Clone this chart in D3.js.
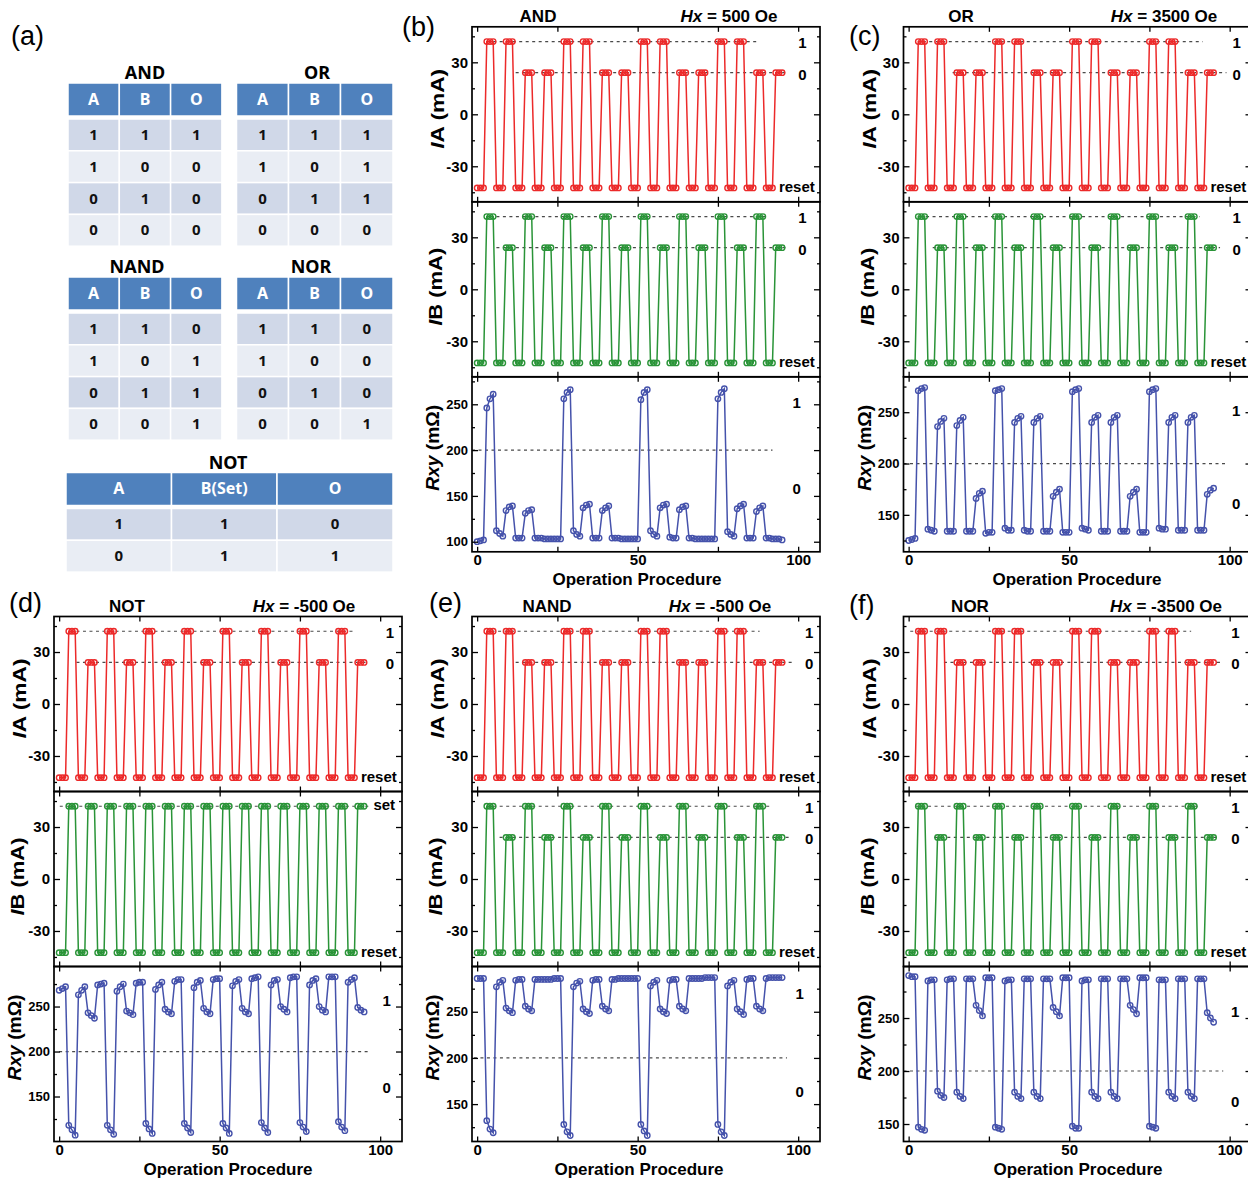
<!DOCTYPE html>
<html>
<head>
<meta charset="utf-8">
<script src="https://cdnjs.cloudflare.com/ajax/libs/d3/7.8.5/d3.min.js"></script>
<style>
body { margin: 0; background: #fff; }
text { font-family: "Liberation Sans", Arial, sans-serif; }
.tbl text { font-family: "Noto Sans", "Open Sans", sans-serif; }
</style>
</head>
<body>
<div id="vis"></div>
<script>
// ---------- data ----------
const steps = d3.range(96); // operation procedure index

// current levels (mA)
const levelOne = 42, levelZero = 24, levelReset = -42.5;

// input bit of each of the 16 operation cycles
const andA = [1,1,0,0,1,1,0,0,1,1,0,0,1,1,0,0];
const andB = [1,0,1,0,1,0,1,0,1,0,1,0,1,0,1,0];
const orA = [1,1,0,0,1,1,0,0,1,1,0,0,1,1,0,0];
const orB = [1,0,1,0,1,0,1,0,1,0,1,0,1,0,1,0];
const notA = [1,0,1,0,1,0,1,0,1,0,1,0,1,0,1,0];
const notB = [1,1,1,1,1,1,1,1,1,1,1,1,1,1,1,1];
const nandA = [1,1,0,0,1,1,0,0,1,1,0,0,1,1,0,0];
const nandB = [1,0,1,0,1,0,1,0,1,0,1,0,1,0,1,0];
const norA = [1,1,0,0,1,1,0,0,1,1,0,0,1,1,0,0];
const norB = [1,0,1,0,1,0,1,0,1,0,1,0,1,0,1,0];

// Rxy (mOhm), 96 points each
const rxyAnd = [
  100,101,102, 246,256,261,  112,109,106, 134,138,139,  104,104,104, 131,134,135,  104,104,104, 103,103,103,
  103,103,103, 256,263,266,  112,108,106, 137,140,141,  104,104,104, 134,137,139,  104,104,104, 103,103,103,
  103,103,103, 255,263,266,  112,108,106, 137,140,141,  105,104,104, 135,138,139,  104,104,103, 103,103,103,
  103,103,103, 256,263,267,  111,108,106, 136,139,141,  104,104,104, 133,137,139,  104,104,103, 103,103,102
];
const rxyOr = [
  125,126,127, 271,273,274,  136,135,134, 236,241,244,  134,134,134, 237,242,245,  134,134,134, 166,171,173,
  132,133,133, 271,272,273,  137,135,135, 240,244,246,  135,134,134, 240,244,246,  134,134,134, 168,172,175,
  133,133,133, 270,272,273,  137,136,135, 240,245,247,  134,134,134, 240,245,247,  134,134,134, 168,172,175,
  133,133,133, 270,272,273,  137,136,136, 240,245,247,  135,135,135, 240,245,247,  135,135,135, 170,174,176
];
const rxyNot = [
  268,270,272, 118,113,107,  263,268,272, 243,240,237,  274,275,276, 118,113,108,  267,272,275, 245,243,241,
  276,277,277, 120,114,109,  269,274,277, 247,244,242,  278,280,280, 120,115,110,  271,277,279, 248,244,242,
  280,281,281, 120,115,109,  273,278,280, 248,244,242,  281,282,283, 121,115,110,  274,279,280, 250,247,244,
  282,283,283, 121,116,111,  274,279,281, 250,246,244,  283,283,283, 122,116,112,  277,280,282, 249,246,244
];
const rxyNand = [
  286,286,286, 132,123,119,  277,282,284, 254,251,249,  284,285,285, 256,253,251,  285,285,285, 285,285,285,
  286,286,286, 128,120,116,  277,281,283, 253,250,248,  284,285,285, 256,253,251,  285,285,286, 286,286,286,
  286,286,286, 128,121,116,  278,282,284, 253,250,248,  284,285,285, 256,253,251,  286,286,286, 286,286,287,
  287,287,287, 128,120,116,  278,282,284, 253,250,247,  285,286,286, 256,253,251,  286,287,287, 287,287,287
];
const rxyNor = [
  290,289,289, 147,145,144,  285,286,286, 181,177,175,  286,287,287, 180,176,174,  287,287,287, 262,257,252,
  288,288,288, 147,146,145,  285,286,286, 180,176,174,  287,287,287, 180,176,174,  287,287,287, 260,256,252,
  288,288,288, 148,146,146,  285,286,286, 180,176,174,  287,287,287, 180,176,174,  287,287,287, 262,258,254,
  288,288,288, 148,147,146,  286,286,286, 180,176,174,  287,287,287, 180,176,174,  287,287,287, 255,250,246
];

// truth tables
const gateHeaders = ['A', 'B', 'O'];
const andRows = [[1,1,1],[1,0,0],[0,1,0],[0,0,0]];
const orRows = [[1,1,1],[1,0,1],[0,1,1],[0,0,0]];
const nandRows = [[1,1,0],[1,0,1],[0,1,1],[0,0,1]];
const norRows = [[1,1,0],[1,0,0],[0,1,0],[0,0,1]];
const notHeaders = ['A', 'B(Set)', 'O'];
const notRows = [[1,1,0],[0,1,1]];

// ---------- drawing ----------
const svg = d3.select('#vis').append('svg')
  .attr('width', 1248).attr('height', 1182);

const red = '#ec2a2a', green = '#2a9438', blue = '#4552ab';
const subH = 175, plotW = 348;

// turn input bits into reset / write points
function pulseTrain(bits) {
  const pts = [];
  bits.forEach((bit, k) => {
    for (let j = 0; j < 3; j++) pts.push({step: steps[6 * k + j], value: levelReset});
    for (let j = 3; j < 6; j++) pts.push({step: steps[6 * k + j], value: bit ? levelOne : levelZero});
  });
  return pts;
}

function axes(g, x, y, yMajor, yMinor, showX, fontSize) {
  const [x0, x1] = x.range();
  const [yb, yt] = y.range();
  const style = a => {
    a.select('.domain').remove();
    a.selectAll('line').attr('stroke', '#000').attr('stroke-width', 1.3);
    a.selectAll('text').attr('font-family', '"Liberation Sans", Arial, sans-serif')
      .attr('font-weight', 'bold').attr('font-size', fontSize).attr('fill', '#000');
  };
  g.append('g').attr('transform', `translate(${x0},0)`)
    .call(d3.axisLeft(y).tickValues(yMajor).tickSize(-6).tickPadding(4).tickFormat(d => String(d))).call(style);
  g.append('g').attr('transform', `translate(${x0},0)`)
    .call(d3.axisLeft(y).tickValues(yMinor).tickSize(-3).tickFormat('')).call(style);
  g.append('g').attr('transform', `translate(${x1},0)`)
    .call(d3.axisRight(y).tickValues(yMajor).tickSize(-6).tickFormat('')).call(style);
  g.append('g').attr('transform', `translate(${x1},0)`)
    .call(d3.axisRight(y).tickValues(yMinor).tickSize(-3).tickFormat('')).call(style);
  g.append('g').attr('transform', `translate(0,${yt})`)
    .call(d3.axisTop(x).tickValues([0, 25, 50, 75, 100]).tickSize(-5).tickFormat('')).call(style);
  g.append('g').attr('transform', `translate(0,${yb})`)
    .call(d3.axisBottom(x).tickValues([0, 25, 50, 75, 100]).tickSize(-5).tickPadding(3)
      .tickFormat(d => showX && d % 50 === 0 ? String(d) : '')).call(style)
    .call(a => a.selectAll('text').attr('font-size', 15));
  g.append('rect').attr('x', x0).attr('y', yt).attr('width', x1 - x0).attr('height', yb - yt)
    .attr('fill', 'none').attr('stroke', '#000').attr('stroke-width', 1.7);
}

function yTitle(g, cx, cy, italic, rest, len) {
  const t = g.append('text').attr('transform', `translate(${cx},${cy}) rotate(-90)`)
    .attr('text-anchor', 'middle').attr('dominant-baseline', 'middle')
    .attr('font-size', 19).attr('font-weight', 'bold')
    .attr('textLength', len).attr('lengthAdjust', 'spacingAndGlyphs');
  t.append('tspan').attr('font-style', 'italic').text(italic);
  t.append('tspan').text(rest);
}

function dash(g, x, y, from, to, level) {
  g.append('line').attr('x1', x(from)).attr('x2', x(to)).attr('y1', y(level)).attr('y2', y(level))
    .attr('stroke', '#4a4a4a').attr('stroke-width', 1.2).attr('stroke-dasharray', '3,3.5');
}

function series(g, x, y, pts, color) {
  g.append('path').datum(pts)
    .attr('d', d3.line().x(d => x(d.step)).y(d => y(d.value)))
    .attr('fill', 'none').attr('stroke', color).attr('stroke-width', 1.5);
  g.selectAll(null).data(pts).enter().append('circle')
    .attr('cx', d => x(d.step)).attr('cy', d => y(d.value)).attr('r', 2.7)
    .attr('fill', 'none').attr('stroke', color).attr('stroke-width', 1.4);
}

function label(g, px, py, txt, size, anchor) {
  g.append('text').attr('x', px).attr('y', py).attr('text-anchor', anchor || 'middle')
    .attr('dominant-baseline', 'middle').attr('font-size', size || 15).attr('font-weight', 'bold').text(txt);
}

const panels = [
  {letter: '(b)', lx: 402, ly: 36, gate: 'AND', gx: 538, field: ' = 500 Oe', fx: 729, ty: 22,
   left: 472, top: 26.8, a: andA, b: andB, rxy: rxyAnd, rDomain: [89, 280], rMajor: [100, 150, 200, 250],
   aDash: [[5, 87], [12, 97]], bDash: [[6, 91], [6, 97]], rDash: [-1.6, 92], ioX: 101.3,
   rLab: [250, 156], rLabX: 99.5, xt: 637},
  {letter: '(c)', lx: 849, ly: 45, gate: 'OR', gx: 961, field: ' = 3500 Oe', fx: 1164, ty: 22,
   left: 903.5, top: 26.8, a: orA, b: orB, rxy: rxyOr, rDomain: [114, 284.5], rMajor: [150, 200, 250],
   aDash: [[4.4, 91.6], [13.7, 99]], bDash: [[3.4, 90.6], [7.5, 97]], rDash: [-1.6, 99.4], ioX: 102.2,
   rLab: [250, 160], rLabX: 102, xt: 1077},
  {letter: '(d)', lx: 9, ly: 612, gate: 'NOT', gx: 127, field: ' = -500 Oe', fx: 304, ty: 612,
   left: 54, top: 616.5, a: notA, b: notB, rxy: rxyNot, rDomain: [100, 294.5], rMajor: [150, 200, 250],
   aDash: [[5.4, 91.6], [5.4, 95.8]], bDash: [[0.2, 96.9], null], rDash: [0, 96.9], ioX: 103,
   rLab: [255, 158], rLabX: 102, xt: 228, notGate: true},
  {letter: '(e)', lx: 429, ly: 612, gate: 'NAND', gx: 547, field: ' = -500 Oe', fx: 720, ty: 612,
   left: 472, top: 616.5, a: nandA, b: nandB, rxy: rxyNand, rDomain: [109.5, 299], rMajor: [150, 200, 250],
   aDash: [[4.5, 88], [12, 98]], bDash: [[5, 91], [7, 98]], rDash: [-1, 96.5], ioX: 103.4,
   rLab: [268, 162], rLabX: 100.5, xt: 639},
  {letter: '(f)', lx: 849, ly: 614, gate: 'NOR', gx: 970, field: ' = -3500 Oe', fx: 1166, ty: 612,
   left: 903.5, top: 616.5, a: norA, b: norB, rxy: rxyNor, rDomain: [133.5, 298.6], rMajor: [150, 200, 250],
   aDash: [[0.5, 88], [11, 98]], bDash: [[2, 91], [8, 97]], rDash: [-1.6, 98], ioX: 101.8,
   rLab: [255, 170], rLabX: 101.7, xt: 1078}
];

panels.forEach(p => {
  const g = svg.append('g');
  const x = d3.scaleLinear().domain([-1.6, 106.8]).range([p.left, p.left + plotW]);

  g.append('text').attr('x', p.lx).attr('y', p.ly).attr('font-size', 27).text(p.letter);
  g.append('text').attr('x', p.gx).attr('y', p.ty).attr('text-anchor', 'middle')
    .attr('font-size', 17).attr('font-weight', 'bold').text(p.gate);
  const ft = g.append('text').attr('x', p.fx).attr('y', p.ty).attr('text-anchor', 'middle')
    .attr('font-size', 17).attr('font-weight', 'bold');
  ft.append('tspan').attr('font-style', 'italic').text('Hx');
  ft.append('tspan').text(p.field);

  // IA
  const yA = d3.scaleLinear().domain([-50.5, 50.5]).range([p.top + subH, p.top]);
  dash(g, x, yA, p.aDash[0][0], p.aDash[0][1], levelOne);
  dash(g, x, yA, p.aDash[1][0], p.aDash[1][1], levelZero);
  series(g, x, yA, pulseTrain(p.a), red);
  axes(g, x, yA, [-30, 0, 30], [-45, -15, 15, 45], false, 15);
  yTitle(g, p.left - 33, p.top + 82, 'I', 'A (mA)', 80);
  label(g, x(p.ioX), yA(levelOne) + 3, '1');
  label(g, x(p.ioX), yA(levelZero) + 3, '0');
  label(g, x(94), yA(levelReset), 'reset', 15, 'start');

  // IB
  const yB = d3.scaleLinear().domain([-50.5, 50.5]).range([p.top + 2 * subH, p.top + subH]);
  dash(g, x, yB, p.bDash[0][0], p.bDash[0][1], levelOne);
  if (p.bDash[1]) dash(g, x, yB, p.bDash[1][0], p.bDash[1][1], levelZero);
  series(g, x, yB, pulseTrain(p.b), green);
  axes(g, x, yB, [-30, 0, 30], [-45, -15, 15, 45], false, 15);
  yTitle(g, p.left - 35, p.top + subH + 85, 'I', 'B (mA)', 78);
  if (p.notGate) {
    label(g, x(97.9), yB(levelOne), 'set', 15, 'start');
  } else {
    label(g, x(p.ioX), yB(levelOne) + 3, '1');
    label(g, x(p.ioX), yB(levelZero) + 3, '0');
  }
  label(g, x(94), yB(levelReset), 'reset', 15, 'start');

  // Rxy
  const yR = d3.scaleLinear().domain(p.rDomain).range([p.top + 3 * subH, p.top + 2 * subH]);
  dash(g, x, yR, p.rDash[0], p.rDash[1], 200);
  series(g, x, yR, steps.map(i => ({step: i, value: p.rxy[i]})), blue);
  const rMinor = [125, 175, 225, 275].filter(v => v > p.rDomain[0] && v < p.rDomain[1]);
  axes(g, x, yR, p.rMajor, rMinor, true, 13);
  yTitle(g, p.left - 38, p.top + 2 * subH + 71, 'Rxy', ' (mΩ)', 86);
  label(g, x(p.rLabX), yR(p.rLab[0]), '1');
  label(g, x(p.rLabX), yR(p.rLab[1]), '0');
  g.append('text').attr('x', p.xt).attr('y', p.top + 3 * subH + 33.5).attr('text-anchor', 'middle')
    .attr('font-size', 17).attr('font-weight', 'bold').text('Operation Procedure');
});

// ---------- (a) truth tables ----------
svg.append('text').attr('x', 11).attr('y', 45).attr('font-size', 27).text('(a)');

function table(x0, y0, colW, headers, rows, title, titleX, titleY) {
  const g = svg.append('g').attr('class', 'tbl');
  const headH = 33, rowPitch = 31.8;
  const xs = d3.cumsum([0].concat(colW)).map(v => x0 + v);
  g.append('text').attr('x', titleX).attr('y', titleY).attr('text-anchor', 'middle')
    .attr('font-size', 18).attr('font-weight', 'bold').text(title);
  headers.forEach((h, i) => {
    g.append('rect').attr('x', xs[i]).attr('y', y0).attr('width', colW[i]).attr('height', headH)
      .attr('fill', '#4f81bd').attr('stroke', '#fff').attr('stroke-width', 1.5);
    g.append('text').attr('x', xs[i] + colW[i] / 2).attr('y', y0 + headH / 2 + 1)
      .attr('text-anchor', 'middle').attr('dominant-baseline', 'middle')
      .attr('font-size', 16).attr('font-weight', 'bold').attr('fill', '#fff').text(h);
  });
  rows.forEach((r, j) => {
    const ry = y0 + headH + 3 + j * rowPitch;
    r.forEach((v, i) => {
      g.append('rect').attr('x', xs[i]).attr('y', ry).attr('width', colW[i]).attr('height', rowPitch)
        .attr('fill', j % 2 === 0 ? '#d0d8e8' : '#e9edf4').attr('stroke', '#fff').attr('stroke-width', 1.5);
      g.append('text').attr('x', xs[i] + colW[i] / 2).attr('y', ry + rowPitch / 2 + 1)
        .attr('text-anchor', 'middle').attr('dominant-baseline', 'middle')
        .attr('font-size', 15).attr('font-weight', 'bold').attr('fill', '#111').text(v);
    });
  });
}

table(68, 83, [51.3, 51.3, 51.3], gateHeaders, andRows, 'AND', 145, 79);
table(236.5, 83, [52, 52, 52.5], gateHeaders, orRows, 'OR', 317, 79);
table(68, 277, [51.3, 51.3, 51.3], gateHeaders, nandRows, 'NAND', 137, 273);
table(236.5, 277, [52, 52, 52.5], gateHeaders, norRows, 'NOR', 311, 273);
table(66, 472.5, [105.5, 105.5, 116], notHeaders, notRows, 'NOT', 228, 469);
</script>
</body>
</html>
